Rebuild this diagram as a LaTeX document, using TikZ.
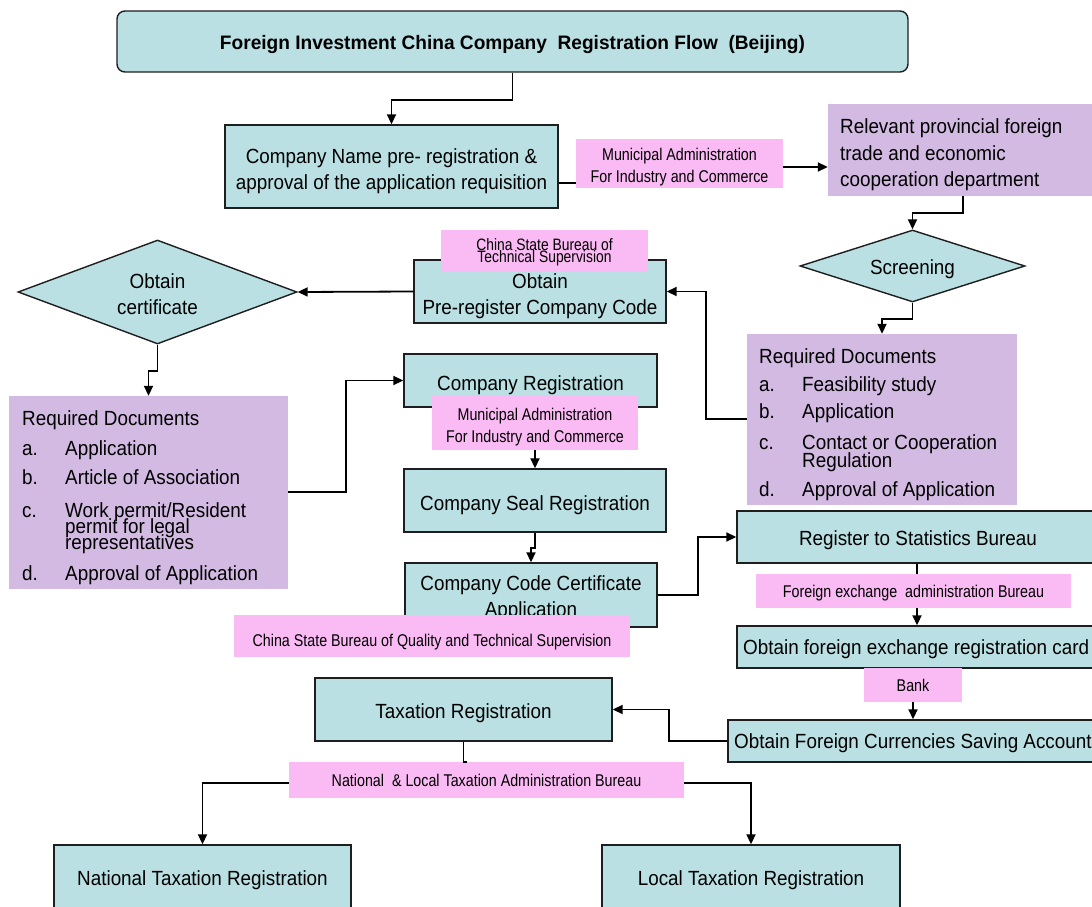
\documentclass[tikz,border=0pt]{standalone}
\usepackage{fontspec}
\setmainfont{Liberation Sans}
\newfontfamily\mainf{Liberation Sans}[FakeStretch=0.92]
\newfontfamily\pinkf{Liberation Sans}[FakeStretch=0.84]
\newfontfamily\titlef{Liberation Sans}[FakeStretch=0.98]
\usetikzlibrary{arrows.meta,shapes.geometric}
\definecolor{cyanF}{RGB}{186,224,227}
\definecolor{purpF}{RGB}{211,186,226}
\definecolor{pinkF}{RGB}{250,186,243}
\definecolor{edgeC}{RGB}{30,30,30}
\newcommand\upx[1]{\rule{0pt}{#1pt}}
\begin{document}
\begin{tikzpicture}[x=1pt,y=-1pt,
  tdown/.style={execute at begin node={\rule{0pt}{#1pt}}},
  tbox/.style={draw=edgeC, line width=1.4pt, fill=cyanF, inner sep=0pt, align=center,
    font=\mainf\fontsize{20.5}{26}\selectfont},
  dia/.style={diamond, draw=edgeC, line width=1.4pt, fill=cyanF, inner sep=0pt, align=center,
    font=\mainf\fontsize{20.5}{26}\selectfont},
  pbox/.style={fill=purpF, inner sep=0pt},
  pk/.style={fill=pinkF, inner sep=0pt, align=center,
    font=\pinkf\fontsize{17}{22.5}\selectfont},
  mt/.style={inner sep=0pt, anchor=base west, font=\mainf\fontsize{20.5}{24}\selectfont},
  ln/.style={draw=black, line width=1.8pt},
  arr/.style={draw=black, line width=1.8pt, -{Triangle[length=10pt,width=9pt]}}]
\useasboundingbox (0,0) rectangle (1092,907);

% ---- cyan boxes
\node[tbox, rounded corners=8pt, minimum width=791pt, minimum height=61pt, tdown=20,
  font=\titlef\bfseries\fontsize{19.5}{24}\selectfont] (title) at (512.5,41.5)
  {Foreign Investment China Company\ \ Registration Flow\ \ (Beijing)};
\node[tbox, minimum width=333pt, minimum height=83pt] (cn) at (391.5,166.5)
  {\upx{24}Company Name pre- registration \&\\approval of the application requisition};
\node[tbox, minimum width=252pt, minimum height=63pt] (code) at (540,291.5)
  {\upx{24}Obtain\\Pre-register Company Code};
\node[tbox, minimum width=253pt, minimum height=53pt, tdown=25] (creg) at (530.5,380.5)
  {Company Registration};
\node[tbox, minimum width=262pt, minimum height=63pt, tdown=25] (seal) at (535,500.5)
  {Company Seal Registration};
\node[tbox, minimum width=252pt, minimum height=64pt] (ccert) at (531,595)
  {\upx{21.5}Company Code Certificate\\Application};
\node[tbox, minimum width=362pt, minimum height=52pt, tdown=21] (stat) at (918,537)
  {Register to Statistics Bureau};
\node[tbox, minimum width=380pt, minimum height=42pt] (fx) at (927,647) {};
\node[mt] (fxt) at (743,654) {Obtain foreign exchange registration card};
\node[tbox, minimum width=390pt, minimum height=42pt] (sav) at (923,741) {};
\node[mt] (savt) at (734,748) {Obtain Foreign Currencies Saving Account};
\node[tbox, minimum width=297pt, minimum height=63pt, tdown=23] (tax) at (463.5,709.5)
  {Taxation Registration};
\node[tbox, minimum width=297pt, minimum height=68pt, tdown=17] (nat) at (202.5,879)
  {National Taxation Registration};
\node[tbox, minimum width=298pt, minimum height=68pt, tdown=17] (loc) at (751,879)
  {Local Taxation Registration};

% ---- diamonds
\node[dia, shape aspect=3.125, minimum width=225pt, minimum height=72pt, tdown=21] (scr) at (912.5,266) {Screening};
\node[dia, shape aspect=2.68, minimum width=279pt, minimum height=104pt] (cert) at (157.5,292)
  {\upx{19.5}Obtain\\certificate};

% ---- purple boxes
\node[pbox, minimum width=290pt, minimum height=92pt] (rel) at (973,150) {};
\node[mt] (rel1) at (840,133) {Relevant provincial foreign};
\node[mt] (rel2) at (840,160) {trade and economic};
\node[mt] (rel3) at (840,186) {cooperation department};

\node[pbox, minimum width=270pt, minimum height=171pt] (rdR) at (882,419.5) {};
\node[mt] (rdR0) at (759,363) {Required Documents};
\node[mt] (rdRa) at (759,391) {a.};
\node[mt] (rdRat) at (802,391) {Feasibility study};
\node[mt] (rdRb) at (759,418) {b.};
\node[mt] (rdRbt) at (802,418) {Application};
\node[mt] (rdRc) at (759,449) {c.};
\node[mt] (rdRct) at (802,449) {Contact or Cooperation};
\node[mt] (rdRct2) at (802,467) {Regulation};
\node[mt] (rdRd) at (759,496) {d.};
\node[mt] (rdRdt) at (802,496) {Approval of Application};

\node[pbox, minimum width=279pt, minimum height=193pt] (rdL) at (148.5,492.5) {};
\node[mt] (rdL0) at (22,425) {Required Documents};
\node[mt] (rdLa) at (22,455) {a.};
\node[mt] (rdLat) at (65,455) {Application};
\node[mt] (rdLb) at (22,484) {b.};
\node[mt] (rdLbt) at (65,484) {Article of Association};
\node[mt] (rdLc) at (22,517) {c.};
\node[mt] (rdLct) at (65,517) {Work permit/Resident};
\node[mt] (rdLct2) at (65,533) {permit for legal};
\node[mt] (rdLct3) at (65,549) {representatives};
\node[mt] (rdLd) at (22,580) {d.};
\node[mt] (rdLdt) at (65,580) {Approval of Application};

% ---- pink labels
\node[pk, minimum width=207pt, minimum height=49pt] (pk1) at (679.5,163.5)
  {\upx{19.5}Municipal Administration\\For Industry and Commerce};
\node[pk, minimum width=207pt, minimum height=41pt, font=\pinkf\fontsize{16.5}{12.5}\selectfont] (pk5) at (544.5,250.5)
  {\upx{15}China State Bureau of\\Technical Supervision};
\node[pk, minimum width=206pt, minimum height=54pt] (pk2) at (535,423)
  {\upx{20.5}Municipal Administration\\For Industry and Commerce};
\node[pk, minimum width=396pt, minimum height=42pt, tdown=24] (pk6) at (432,636)
  {China State Bureau of Quality and Technical Supervision};
\node[pk, minimum width=315pt, minimum height=34pt, tdown=16] (pk3) at (913.5,591)
  {Foreign exchange\ \ administration Bureau};
\node[pk, minimum width=98pt, minimum height=34pt] (bank) at (913,685) {Bank};
\node[pk, minimum width=395pt, minimum height=36pt] (pk4) at (486.5,780)
  {National\ \ \& Local Taxation Administration Bureau};

% ---- connectors
\draw[arr] (title.south) -- ++(0,27) -| (cn.north);
\draw[ln] (cn.east |- 0,183) -- (pk1.west |- 0,183);
\draw[arr] (pk1.east |- 0,167) -- (rel.west |- 0,167);
\draw[arr] (rel.south -| 963,0) -- ++(0,17) -| (scr.north);
\draw[arr] (scr.south) -- ++(0,16) -| (rdR.north);
\draw[arr] (rdR.west |- 0,419) -- ++(-41,0) |- (code.east);
\draw[arr] (code.west) -- (cert.east);
\draw[arr] (cert.south) -- ++(0,26) -| (rdL.north);
\draw[arr] (rdL.east |- 0,492) -- ++(58,0) |- (creg.west);
\draw[arr] (pk2.south) -- (seal.north);
\draw[arr] (seal.south) -- ++(0,15) -| (ccert.north);
\draw[arr] (ccert.east |- 0,595) -- ++(40,0) |- (stat.west);
\draw[ln] (stat.south -| 917,0) -- (pk3.north -| 917,0);
\draw[arr] (pk3.south -| 917,0) -- (fx.north -| 917,0);
\draw[arr] (bank.south) -- (sav.north -| bank.south);
\draw[arr] (sav.west) -- ++(-58,0) |- (tax.east);
\draw[ln] (tax.south) -- (tax.south |- pk4.north) -- ++(3,0);
\draw[arr] (pk4.west |- 0,783) -| (nat.north);
\draw[arr] (pk4.east |- 0,783) -| (loc.north);
\end{tikzpicture}
\end{document}
